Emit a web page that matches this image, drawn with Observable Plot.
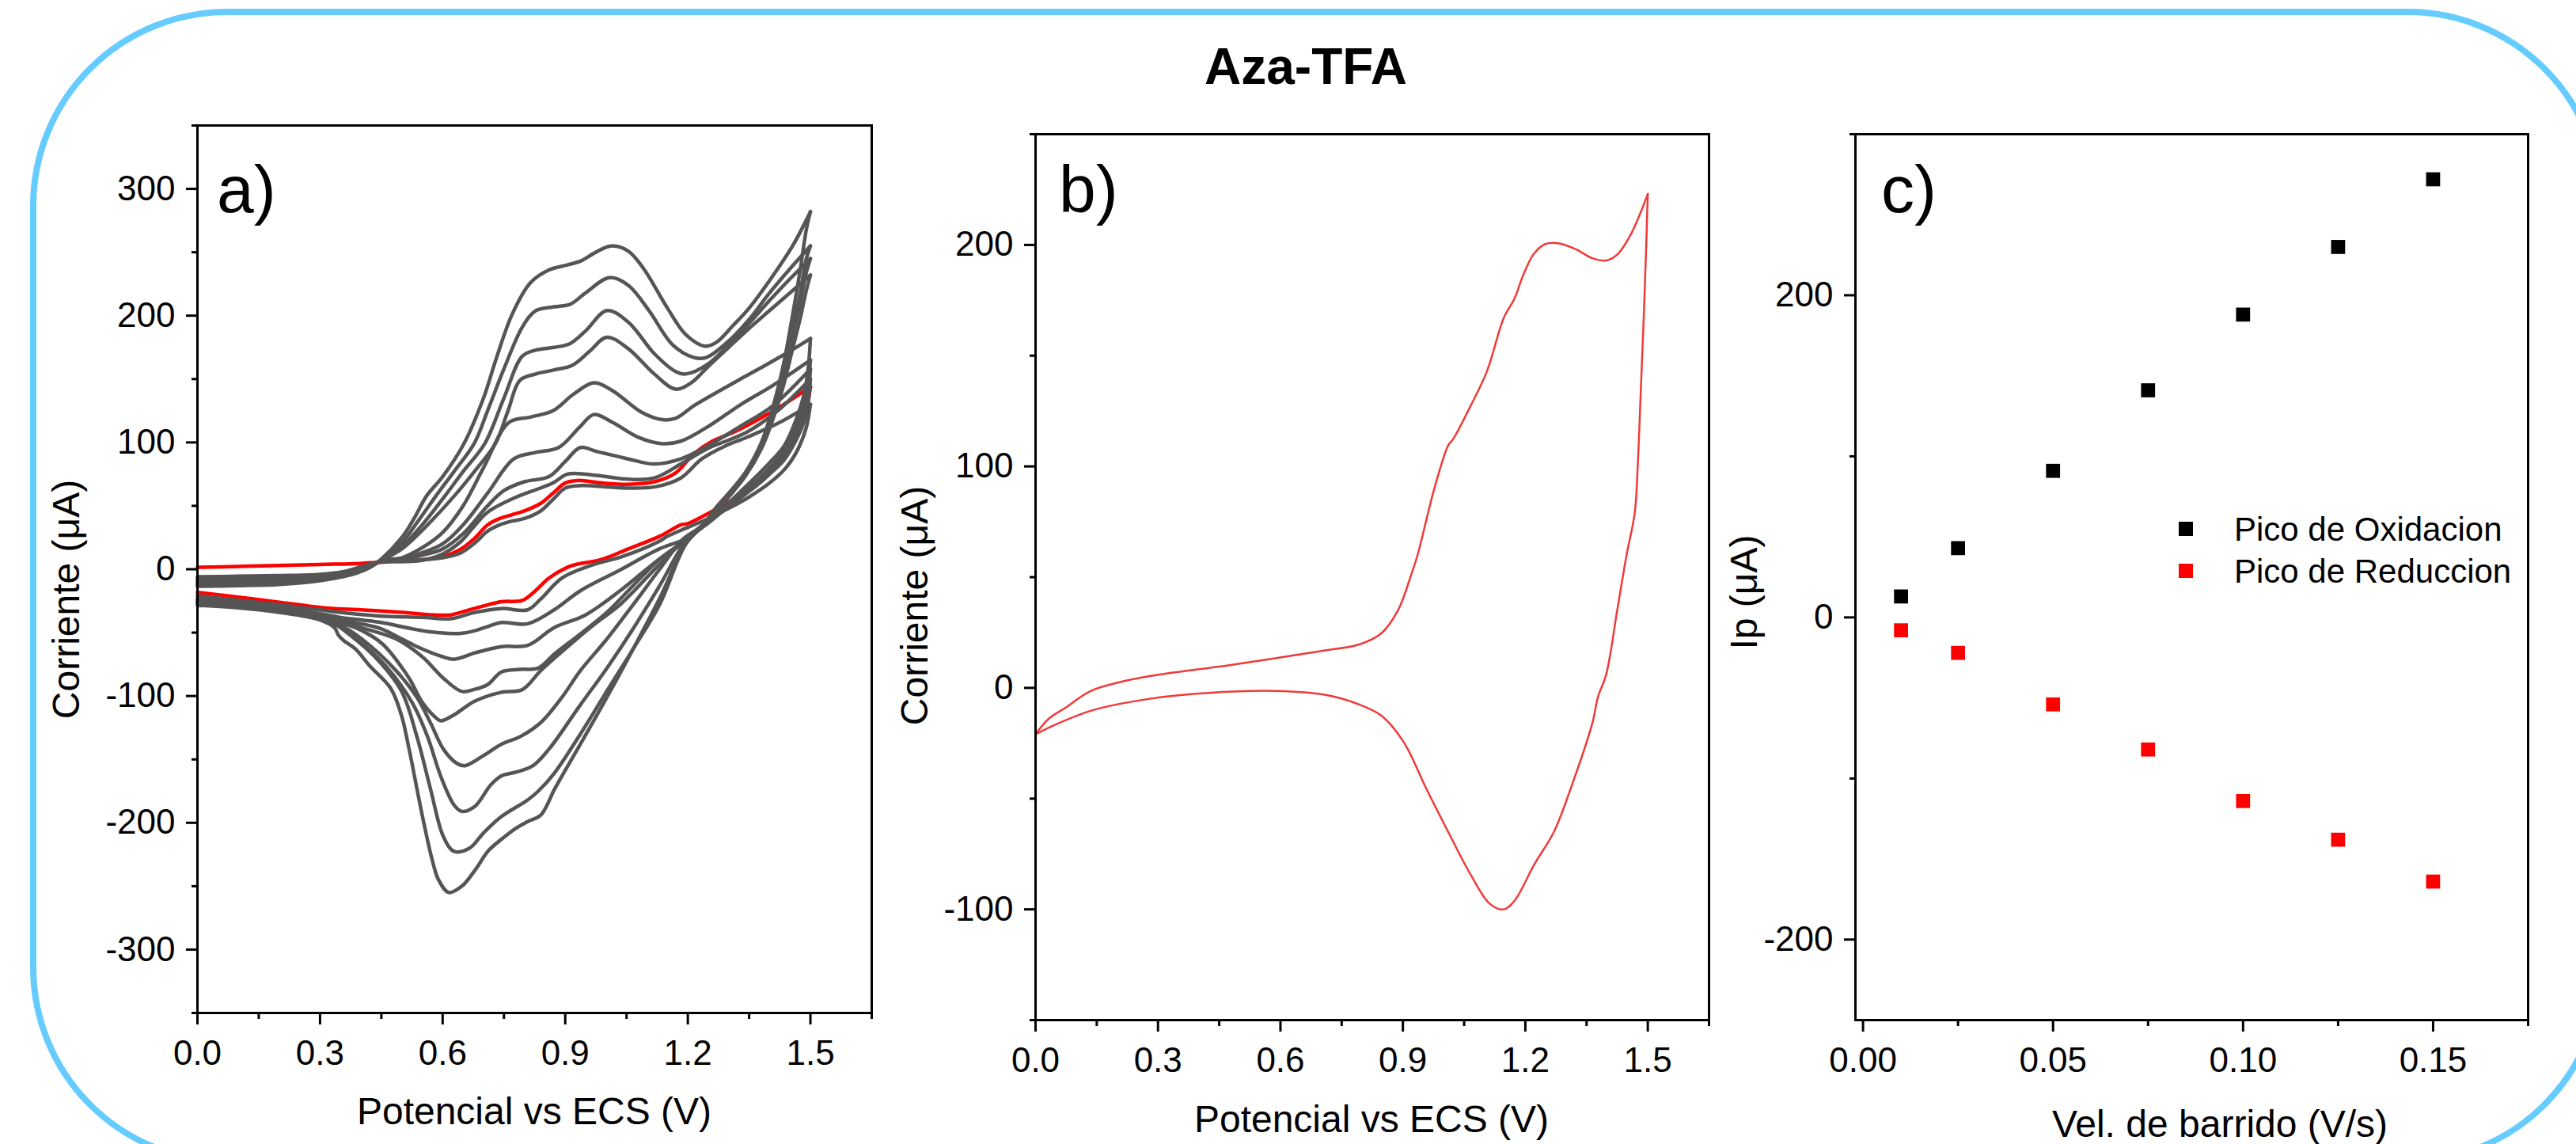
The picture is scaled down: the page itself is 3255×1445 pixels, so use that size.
<!DOCTYPE html>
<html><head><meta charset="utf-8">
<script src="https://cdn.jsdelivr.net/npm/d3@7"></script>
<script src="https://cdn.jsdelivr.net/npm/@observablehq/plot@0.6"></script>
<style>
html,body{margin:0;padding:0;background:#fff;}
#root{position:relative;width:3255px;height:1445px;overflow:hidden;background:#fff;font-family:"Liberation Sans",Arial,sans-serif;}
.panel{position:absolute;top:0;}
.border{position:absolute;left:38px;top:11px;width:3253px;height:1460px;border:8px solid #66ccff;border-radius:249px;box-sizing:border-box;}
#overlay{position:absolute;left:0;top:0;pointer-events:none;}
</style></head>
<body><div id="root"><div class="border"></div></div>
<script>
// ---------- Panel a: CV curves at several scan rates (V, µA) ----------
const g1Fwd = [[0,-13.5],[0.1,-13],[0.2,-12],[0.3,-9],[0.355,-6],[0.39,-3],[0.42,1],[0.45,8],[0.5,25],[0.53,40],[0.561,58],[0.6,73],[0.652,99],[0.7,135],[0.731,166],[0.77,201],[0.815,226],[0.86,236],[0.905,240],[0.937,243],[0.975,250],[1.012,255],[1.054,251],[1.092,237],[1.15,206],[1.195,185],[1.241,176],[1.27,179],[1.31,192],[1.35,206],[1.42,237],[1.46,257],[1.5,282]];
const g1Rev = [[1.5,282],[1.49,268],[1.475,236],[1.455,198],[1.435,163],[1.41,130],[1.38,100],[1.34,76],[1.3,60],[1.27,49],[1.24,36],[1.195,20],[1.131,-23],[1.066,-63],[1.002,-101],[0.937,-138],[0.892,-163],[0.873,-174],[0.84,-194],[0.808,-199],[0.776,-205],[0.744,-213],[0.712,-222],[0.68,-237],[0.647,-250],[0.615,-255],[0.59,-245],[0.575,-230],[0.55,-194],[0.518,-142],[0.499,-115],[0.473,-94],[0.421,-76],[0.387,-63],[0.357,-56],[0.345,-52],[0.335,-46],[0.3,-40],[0.2,-34],[0.1,-30.5],[0,-28.5]];
const g2Fwd = [[0,-12.5],[0.1,-12],[0.2,-11],[0.3,-8.5],[0.355,-5.5],[0.39,-2.5],[0.42,1.2],[0.45,7.5],[0.5,21],[0.54,38],[0.584,58],[0.63,78],[0.677,99],[0.71,125],[0.75,158],[0.795,191],[0.828,204],[0.873,207],[0.912,209],[0.95,218],[1.008,230],[1.054,224],[1.105,204],[1.163,177],[1.215,167],[1.245,167],[1.3,180],[1.35,197],[1.4,218],[1.45,237],[1.5,255]];
const g2Rev = [[1.5,255],[1.49,245],[1.475,218],[1.455,188],[1.435,158],[1.41,128],[1.38,99],[1.34,75],[1.3,59],[1.27,48],[1.24,36],[1.195,20],[1.131,-28],[1.066,-63],[1.002,-96],[0.937,-130],[0.873,-161],[0.834,-175],[0.808,-182],[0.744,-195],[0.7,-208],[0.666,-220],[0.628,-222.5],[0.602,-211],[0.57,-173],[0.537,-132],[0.499,-96],[0.434,-69],[0.37,-51],[0.34,-44],[0.3,-39],[0.2,-33],[0.1,-29.5],[0,-27.5]];
const g3Fwd = [[0,-11.5],[0.1,-11],[0.2,-10],[0.3,-8],[0.355,-5],[0.39,-2],[0.42,1.4],[0.45,7],[0.5,18],[0.55,35],[0.606,58],[0.65,77],[0.703,99],[0.75,135],[0.795,168],[0.83,173],[0.873,175],[0.912,178],[0.95,188],[1.002,204],[1.054,195],[1.118,170],[1.17,156],[1.195,154],[1.25,162],[1.3,177],[1.35,194],[1.4,212],[1.45,229],[1.5,245]];
const g3Rev = [[1.5,245],[1.49,234],[1.475,210],[1.455,182],[1.435,153],[1.41,125],[1.38,97],[1.34,74],[1.3,58],[1.27,47],[1.24,35],[1.195,22],[1.131,-13],[1.066,-47],[1.002,-78],[0.937,-107],[0.86,-142],[0.821,-155],[0.78,-160],[0.744,-163],[0.718,-170],[0.679,-187],[0.647,-191],[0.628,-186],[0.595,-163],[0.563,-132],[0.525,-105],[0.46,-76],[0.383,-53],[0.34,-43],[0.3,-38],[0.2,-32],[0.1,-28.5],[0,-26.5]];
const g4Fwd = [[0,-11],[0.1,-10.5],[0.2,-9.5],[0.3,-7.5],[0.355,-4.5],[0.39,-1.5],[0.42,1.6],[0.45,7],[0.5,16],[0.56,34],[0.629,58],[0.68,78],[0.729,99],[0.76,125],[0.789,149],[0.828,154],[0.87,157],[0.918,161],[0.96,172],[1.002,183],[1.054,174],[1.118,154],[1.17,142],[1.208,147],[1.25,160],[1.3,175],[1.35,190],[1.4,204],[1.45,218],[1.5,232]];
const g4Rev = [[1.5,232],[1.49,220],[1.475,198],[1.455,172],[1.435,146],[1.41,120],[1.38,95],[1.34,73],[1.3,57],[1.27,46],[1.24,35],[1.189,24],[1.131,0],[1.066,-28],[1.002,-55],[0.937,-80],[0.892,-101],[0.84,-121],[0.79,-132],[0.744,-138],[0.7,-147],[0.654,-155],[0.634,-153],[0.602,-142],[0.57,-121],[0.537,-101],[0.486,-80],[0.402,-55],[0.35,-44],[0.3,-38],[0.2,-32],[0.1,-28],[0,-26]];
const g5Fwd = [[0,-10],[0.1,-9.5],[0.2,-8.5],[0.3,-7],[0.355,-4],[0.39,-1],[0.42,2],[0.45,7],[0.5,9],[0.55,17],[0.6,29],[0.65,50],[0.7,80],[0.763,116],[0.815,120],[0.87,125],[0.92,138],[0.97,147],[1.015,141],[1.086,124],[1.137,118],[1.17,119],[1.215,129],[1.279,141],[1.34,152],[1.396,162],[1.45,172],[1.5,182]];
const g5Rev = [[1.5,182],[1.495,160],[1.485,139],[1.465,118],[1.435,97],[1.4,84],[1.376,76],[1.312,56],[1.279,46],[1.24,36],[1.195,24],[1.131,4],[1.034,-28],[0.969,-44],[0.892,-65],[0.84,-80],[0.795,-95],[0.744,-97],[0.679,-104],[0.627,-115],[0.595,-119.5],[0.583,-117],[0.55,-105],[0.518,-86],[0.453,-59],[0.4,-48],[0.35,-42],[0.3,-38],[0.2,-32],[0.1,-27.5],[0,-25.5]];
const g6Fwd = [[0,-9],[0.1,-8.5],[0.2,-8],[0.3,-6.5],[0.355,-3.5],[0.39,-0.5],[0.42,2.5],[0.45,6.5],[0.5,8],[0.55,13],[0.6,20],[0.65,35],[0.71,60],[0.774,87],[0.826,92],[0.884,96],[0.935,112],[0.97,122],[1.015,116],[1.079,104],[1.137,99],[1.183,101],[1.247,112],[1.33,130],[1.408,145],[1.5,165]];
const g6Rev = [[1.5,165],[1.495,148],[1.485,130],[1.465,112],[1.435,93],[1.4,80],[1.376,72],[1.312,54],[1.279,45],[1.24,35],[1.195,23],[1.131,8],[1.066,-13],[1.002,-34],[0.937,-51],[0.873,-67],[0.834,-78],[0.79,-79],[0.744,-81],[0.71,-91],[0.675,-95],[0.647,-96.4],[0.602,-86],[0.55,-69],[0.486,-55],[0.4,-46],[0.35,-41],[0.3,-37],[0.2,-31],[0.1,-27],[0,-25]];
const g7Fwd = [[0,-8],[0.1,-7.5],[0.2,-7],[0.3,-6],[0.355,-3],[0.39,0],[0.42,3],[0.45,6.5],[0.5,7],[0.55,11],[0.6,16],[0.65,28],[0.71,50],[0.75,62],[0.8,69],[0.86,73],[0.9,85],[0.937,96],[0.976,93],[1.054,87],[1.118,83],[1.183,87],[1.247,97],[1.33,113],[1.408,129],[1.5,158]];
const g7Rev = [[1.5,158],[1.495,140],[1.485,123],[1.465,107],[1.435,90],[1.4,78],[1.376,70],[1.312,53],[1.279,45],[1.24,35],[1.195,22],[1.13,8],[1.034,-17],[0.95,-36],[0.873,-46],[0.808,-60],[0.744,-61],[0.679,-66],[0.628,-71],[0.6,-69],[0.537,-61],[0.5,-55],[0.45,-47],[0.4,-43],[0.35,-40],[0.3,-36.5],[0.2,-30.5],[0.1,-26.5],[0,-24]];
const g8Fwd = [[0,-7],[0.1,-6.5],[0.2,-6],[0.3,-5],[0.355,-2.5],[0.39,0.5],[0.42,3.5],[0.45,6],[0.5,6],[0.55,7],[0.6,12],[0.645,22],[0.68,35],[0.71,45],[0.774,56],[0.839,64],[0.87,68],[0.905,75],[0.95,75],[1.0,73],[1.054,71],[1.118,72],[1.183,83],[1.247,95],[1.344,108],[1.42,125],[1.5,150]];
const g8Rev = [[1.5,150],[1.495,133],[1.485,117],[1.465,102],[1.435,86],[1.4,75],[1.376,68],[1.312,52],[1.279,44],[1.24,34],[1.195,24],[1.13,16],[1.034,-0.6],[0.937,-17],[0.873,-32],[0.808,-43],[0.744,-42],[0.712,-45],[0.679,-48.5],[0.645,-50.6],[0.613,-50.6],[0.56,-49],[0.516,-46.4],[0.45,-42],[0.4,-40],[0.35,-38],[0.3,-35],[0.2,-29.5],[0.1,-25.5],[0,-23]];
const g9Fwd = [[0,-6],[0.1,-5.5],[0.2,-5],[0.3,-4],[0.355,-2],[0.39,1],[0.42,4],[0.45,6],[0.5,6.5],[0.55,7.5],[0.6,9],[0.645,13],[0.68,21],[0.71,30],[0.74,35],[0.77,38],[0.8,40],[0.84,46],[0.87,55],[0.9,64],[0.94,66],[1.0,65],[1.05,64],[1.12,65],[1.183,72],[1.234,87],[1.29,97],[1.344,104],[1.42,115],[1.5,130]];
const g9Rev = [[1.5,130],[1.49,112],[1.47,95],[1.44,80],[1.4,68],[1.35,57],[1.3,48],[1.25,40],[1.2,33],[1.15,26],[1.13,22],[1.04,10],[0.969,3.6],[0.892,-7],[0.84,-23.5],[0.808,-32],[0.744,-31],[0.679,-34],[0.62,-39],[0.55,-38],[0.45,-37],[0.35,-34],[0.3,-32],[0.2,-28],[0.1,-24.5],[0,-21]];
const redFwdA = [[0,1.5],[0.1,2.2],[0.2,3],[0.3,3.8],[0.4,4.6],[0.45,5.5],[0.5,6.5],[0.55,7.5],[0.6,10],[0.645,16],[0.68,25],[0.71,35],[0.74,40],[0.77,43],[0.8,46],[0.84,52],[0.87,60],[0.9,68],[0.93,70],[0.99,68],[1.054,67],[1.118,69],[1.17,76],[1.215,91],[1.26,101],[1.312,108],[1.383,120],[1.44,131],[1.5,144]];
const redRevA = [[1.5,144],[1.49,125],[1.47,106],[1.44,89],[1.4,76],[1.35,63],[1.3,53],[1.25,44],[1.2,36],[1.183,35],[1.131,26],[1.054,16],[0.989,7.7],[0.924,3.6],[0.905,1.5],[0.86,-7],[0.827,-17],[0.795,-24.6],[0.744,-25.6],[0.7,-29],[0.666,-32],[0.62,-36],[0.58,-36],[0.5,-34],[0.4,-32],[0.32,-30.8],[0.2,-26],[0.1,-22],[0,-18.3]];

// ---------- Panel b: single CV (V, µA) ----------
const cvBFwd = [[0,-21],[0.032,-14],[0.073,-9],[0.134,-1.5],[0.209,2.7],[0.304,6],[0.481,10.4],[0.698,16.6],[0.793,19.6],[0.847,24.6],[0.888,35],[0.922,52],[0.936,60],[0.977,90],[1.011,109.5],[1.024,112.6],[1.065,127],[1.106,143],[1.147,167],[1.174,176],[1.194,186],[1.221,196],[1.249,200.4],[1.283,200.7],[1.324,198],[1.364,194],[1.398,193],[1.425,195.6],[1.459,205],[1.5,223]];
const cvBRev = [[1.5,223],[1.496,199],[1.49,167],[1.483,135],[1.476,103],[1.468,79],[1.448,60],[1.425,35],[1.398,6],[1.378,-4],[1.364,-16],[1.31,-46],[1.27,-65],[1.221,-80],[1.174,-96],[1.147,-100],[1.113,-97.5],[1.065,-84],[1.011,-65],[0.956,-45],[0.902,-24.5],[0.847,-12.5],[0.793,-7.5],[0.711,-3.2],[0.589,-1.4],[0.413,-2.4],[0.277,-5],[0.141,-10],[0.046,-16.8],[0,-21]];

// ---------- Panel c: peak current vs scan rate ----------
const scanRates = [0.01, 0.025, 0.05, 0.075, 0.1, 0.125, 0.15];
const ipOxidacion = [13, 43, 91, 141, 188, 230, 272];
const ipReduccion = [-8, -22, -54, -82, -114, -138, -164];

// ---------- Ticks & texts ----------
const xMajorCV = [0, 0.3, 0.6, 0.9, 1.2, 1.5];
const xMinorCV = [0.15, 0.45, 0.75, 1.05, 1.35, 1.65];
const yMajorA = [-300, -200, -100, 0, 100, 200, 300];
const yMinorA = [-350, -250, -150, -50, 50, 150, 250, 350];
const yMajorB = [-100, 0, 100, 200];
const yMinorB = [-150, -50, 50, 150, 250];
const xMajorC = [0, 0.05, 0.10, 0.15];
const xMinorC = [0.025, 0.075, 0.125, 0.175];
const yMajorC = [-200, 0, 200];
const yMinorC = [-100, 100, 300];
const titleText = "Aza-TFA";
const panelLabels = ["a)", "b)", "c)"];
const xLabelCV = "Potencial vs ECS (V)";
const yLabelCV = "Corriente (\u03BCA)";
const xLabelC = "Vel. de barrido (V/s)";
const yLabelC = "Ip (\u03BCA)";
const legendNames = ["Pico de Oxidacion", "Pico de Reduccion"];
const legendColors = ["#000000", "#ff0000"];

// ---------- build ----------
const FONT = "Liberation Sans, Arial, sans-serif";
const root = document.getElementById("root");
const toRows = (name, pts, branch) => pts.map(([v, i]) => ({key: name + branch, v, i}));
const grayCurves = [["g1",g1Fwd,g1Rev],["g2",g2Fwd,g2Rev],["g3",g3Fwd,g3Rev],["g4",g4Fwd,g4Rev],["g5",g5Fwd,g5Rev],["g6",g6Fwd,g6Rev],["g7",g7Fwd,g7Rev],["g8",g8Fwd,g8Rev],["g9",g9Fwd,g9Rev]];
const grayRows = grayCurves.flatMap(([n, f, r]) => [...toRows(n, f, "f"), ...toRows(n, r, "r")]);
const redRowsA = [...toRows("red", redFwdA, "f"), ...toRows("red", redRevA, "r")];
const rowsB = [...toRows("b", cvBFwd, "f"), ...toRows("b", cvBRev, "r")];
const rowsC = scanRates.flatMap((s, k) => [
  {s, ip: ipOxidacion[k], serie: legendNames[0]},
  {s, ip: ipReduccion[k], serie: legendNames[1]}
]);

const fmt1 = d => d.toFixed(1);
const fmt2 = d => d.toFixed(2);
const fmtInt = d => String(d);
const blank = () => "";

function axes(xMaj, xMin, yMaj, yMin, xf) {
  return [
    Plot.axisX({ticks: xMaj, tickSize: 15, tickPadding: 19, tickFormat: xf, strokeWidth: 3, label: null, fontSize: 44}),
    Plot.axisX({ticks: xMin, tickSize: 8, tickFormat: blank, strokeWidth: 3, label: null}),
    Plot.axisY({ticks: yMaj, tickSize: 14, tickPadding: 14, tickFormat: fmtInt, strokeWidth: 3, label: null, fontSize: 44}),
    Plot.axisY({ticks: yMin, tickSize: 7, tickFormat: blank, strokeWidth: 3, label: null}),
    Plot.frame({stroke: "black", strokeWidth: 3})
  ];
}
const style = {fontFamily: FONT, fontSize: "44px", background: "transparent", overflow: "visible", color: "black"};

const plotA = Plot.plot({
  width: 1110, height: 1445, marginLeft: 249, marginRight: 9, marginTop: 158, marginBottom: 166,
  x: {domain: [0, 1.65]}, y: {domain: [-350, 350]}, style,
  marks: [
    Plot.line(redRowsA, {x: "v", y: "i", z: "key", stroke: "#ff0000", strokeWidth: 4.5, curve: "catmull-rom"}),
    Plot.line(grayRows, {x: "v", y: "i", z: "key", stroke: "#555555", strokeWidth: 4.5, curve: "catmull-rom"}),
    ...axes(xMajorCV, xMinorCV, yMajorA, yMinorA, fmt1)
  ]
});
const plotB = Plot.plot({
  width: 1070, height: 1445, marginLeft: 198, marginRight: 21, marginTop: 169, marginBottom: 157,
  x: {domain: [0, 1.65]}, y: {domain: [-150, 250]}, style,
  marks: [
    Plot.line(rowsB, {x: "v", y: "i", z: "key", stroke: "#f03a3a", strokeWidth: 2.5, curve: "catmull-rom"}),
    ...axes(xMajorCV, xMinorCV, yMajorB, yMinorB, fmt1)
  ]
});
const plotC = Plot.plot({
  width: 1060, height: 1445, marginLeft: 164, marginRight: 46, marginTop: 169, marginBottom: 157,
  x: {domain: [-0.002, 0.175]}, y: {domain: [-250, 300]}, style,
  color: {domain: legendNames, range: legendColors},
  marks: [
    Plot.dot(rowsC, {x: "s", y: "ip", fill: "serie", symbol: "square", r: 10, stroke: null}),
    ...axes(xMajorC, xMinorC, yMajorC, yMinorC, fmt2)
  ]
});

[[plotA, 0], [plotB, 1110], [plotC, 2180]].forEach(([svg, left]) => {
  const d = document.createElement("div");
  d.className = "panel";
  d.style.left = left + "px";
  d.appendChild(svg);
  root.appendChild(d);
});

// ---------- text overlay (title, axis titles, panel letters, legend) ----------
const ns = "http://www.w3.org/2000/svg";
const ov = document.createElementNS(ns, "svg");
ov.setAttribute("id", "overlay");
ov.setAttribute("width", 3255);
ov.setAttribute("height", 1445);
ov.setAttribute("font-family", FONT);
function txt(s, x, y, opts = {}) {
  const t = document.createElementNS(ns, "text");
  t.textContent = s;
  t.setAttribute("font-size", opts.size || 48);
  t.setAttribute("text-anchor", opts.anchor || "middle");
  if (opts.bold) t.setAttribute("font-weight", "bold");
  if (opts.rotate) t.setAttribute("transform", `translate(${x},${y}) rotate(-90)`);
  else { t.setAttribute("x", x); t.setAttribute("y", y); }
  t.setAttribute("fill", "black");
  ov.appendChild(t);
}
txt(titleText, 1650, 106, {size: 64, bold: true});
txt(panelLabels[0], 274, 268, {size: 84, anchor: "start"});
txt(panelLabels[1], 1338, 268, {size: 84, anchor: "start"});
txt(panelLabels[2], 2377, 268, {size: 84, anchor: "start"});
txt(xLabelCV, 675, 1420);
txt(xLabelCV, 1733, 1430);
txt(xLabelC, 2805, 1436);
txt(yLabelCV, 100, 757, {rotate: true});
txt(yLabelCV, 1172, 765, {rotate: true});
txt(yLabelC, 2220, 748, {rotate: true});
legendNames.forEach((name, k) => {
  const cy = 668 + k * 53;
  const r = document.createElementNS(ns, "rect");
  r.setAttribute("x", 2753); r.setAttribute("y", cy - 9);
  r.setAttribute("width", 18); r.setAttribute("height", 18);
  r.setAttribute("fill", legendColors[k]);
  ov.appendChild(r);
  txt(name, 2823, cy + 15, {size: 42, anchor: "start"});
});
root.appendChild(ov);
</script></body></html>
